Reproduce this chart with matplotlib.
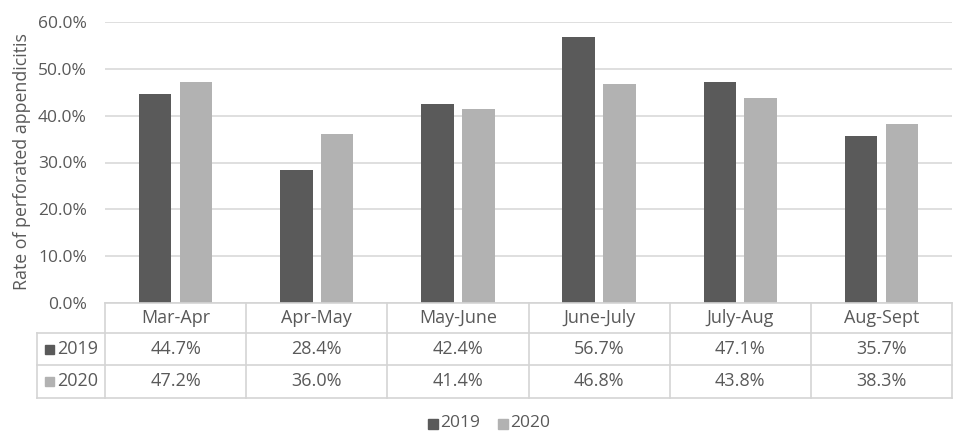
import numpy as np
import matplotlib
matplotlib.use("Agg")
import matplotlib.pyplot as plt
from matplotlib.patches import Rectangle

periods = ["Mar-Apr", "Apr-May", "May-June", "June-July", "July-Aug", "Aug-Sept"]
rate_2019 = [44.7, 28.4, 42.4, 56.7, 47.1, 35.7]
rate_2020 = [47.2, 36.0, 41.4, 46.8, 43.8, 38.3]
years = ["2019", "2020"]
yticks = [0, 10, 20, 30, 40, 50, 60]

c19 = "#5a5a5a"
c20 = "#b2b2b2"
txt = "#595959"
grid = "#d9d9d9"
fs = 13

plt.rcParams['font.family'] = ['Open Sans', 'DejaVu Sans']

W, H = 955, 432
fig = plt.figure(figsize=(W / 100, H / 100), dpi=100)

# pixel layout
x0, x1 = 105, 952
y_top, y_zero = 22, 303
ax = fig.add_axes([x0 / W, 1 - y_zero / H, (x1 - x0) / W, (y_zero - y_top) / H])

n = len(periods)
x = np.arange(n)
bw = 0.23
ax.bar(x - 0.145, rate_2019, bw, color=c19, zorder=3)
ax.bar(x + 0.145, rate_2020, bw, color=c20, zorder=3)
ax.set_xlim(-0.5, n - 0.5)
ax.set_ylim(0, 60)
ax.set_yticks(yticks)
ax.set_yticklabels([f"{v:.1f}%" for v in yticks], color=txt, fontsize=12.5)
ax.tick_params(axis="y", length=0, pad=13)
ax.set_xticks([])
ax.yaxis.grid(True, color=grid, linewidth=1.2, zorder=0)
for s in ["top", "right", "left", "bottom"]:
    ax.spines[s].set_visible(False)

# data table drawn in pixel coordinates on a full-figure overlay
tab = fig.add_axes([0, 0, 1, 1])
tab.set_xlim(0, W)
tab.set_ylim(H, 0)
tab.axis("off")
tab.text(22, 162, "Rate of perforated appendicitis", rotation=90, ha="center", va="center",
         color=txt, fontsize=12.8)

lc = "#d4d4d4"
left = 37
rows = [303, 333, 365, 398]
colw = (x1 - x0) / n
# horizontal lines
tab.plot([x0, x1], [rows[0], rows[0]], color=lc, lw=1.2)
for r in rows[1:]:
    tab.plot([left, x1], [r, r], color=lc, lw=1.2)
# vertical lines
for i in range(n + 1):
    tab.plot([x0 + i * colw] * 2, [rows[0], rows[-1]], color=lc, lw=1.2)
tab.plot([left, left], [rows[1], rows[-1]], color=lc, lw=1.2)

for i, p in enumerate(periods):
    cx = x0 + (i + 0.5) * colw
    tab.text(cx, (rows[0] + rows[1]) / 2, p, ha="center", va="center", color=txt, fontsize=fs)
    tab.text(cx, (rows[1] + rows[2]) / 2, f"{rate_2019[i]:.1f}%", ha="center", va="center", color=txt, fontsize=fs)
    tab.text(cx, (rows[2] + rows[3]) / 2, f"{rate_2020[i]:.1f}%", ha="center", va="center", color=txt, fontsize=fs)

for k, (yr, c) in enumerate(zip(years, [c19, c20])):
    yc = (rows[k + 1] + rows[k + 2]) / 2
    tab.add_patch(Rectangle((45, yc - 4.5), 9, 9, color=c))
    tab.text(57, yc, yr, ha="left", va="center", color=txt, fontsize=fs)

# legend
ly = 423
tab.add_patch(Rectangle((428, ly - 4), 10, 10, color=c19))
tab.text(440, ly, years[0], ha="left", va="center", color=txt, fontsize=12.5)
tab.add_patch(Rectangle((498, ly - 4), 10, 10, color=c20))
tab.text(510, ly, years[1], ha="left", va="center", color=txt, fontsize=12.5)

fig.savefig("out.png", dpi=100, facecolor="white")
